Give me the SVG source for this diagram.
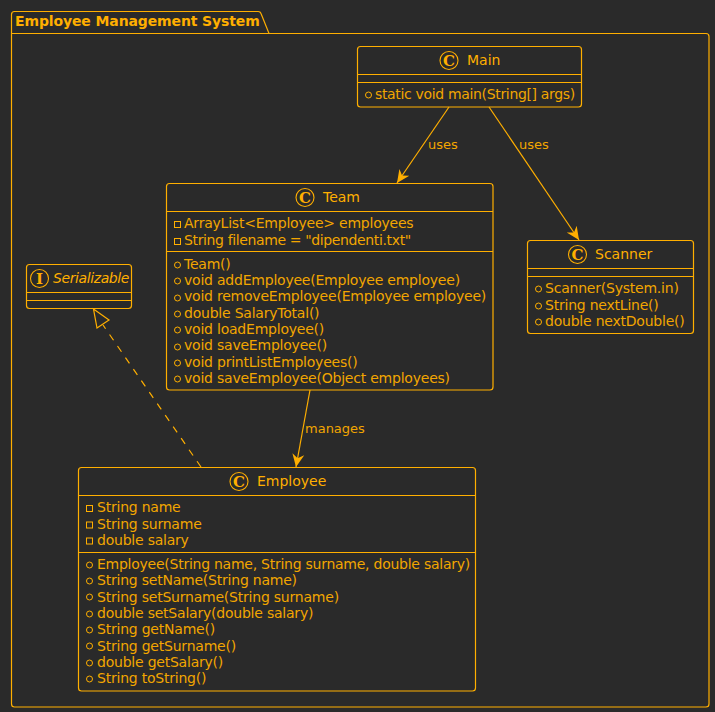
<svg xmlns="http://www.w3.org/2000/svg" width="715" height="712" viewBox="0 0 715 712">
<style>
text{font-family:"DejaVu Sans",sans-serif;font-size:14px;fill:#FFAF00}
.n{fill:none;stroke:#FFAF00;stroke-width:1.2}
.l{stroke:#FFAF00;stroke-width:1.2}
.m{font-size:14px;letter-spacing:-.22px;fill:#F2A600}
.g{font-family:"DejaVu Serif",serif;font-weight:bold;font-size:15px;text-anchor:middle}
.c{fill:none;stroke:#FFAF00;stroke-width:1.1}
.e{stroke:#FFAF00;stroke-width:1;fill:none}
.lab{font-size:13px;fill:#F2A600}
</style>
<defs>
<marker id="open" markerUnits="userSpaceOnUse" markerWidth="16" markerHeight="14" refX="13" refY="6" orient="auto" viewBox="0 0 16 12"><path d="M0,0L13,6L0,12L4,6Z" fill="#FFAF00"/></marker>
<g id="cc"><circle class="c" r="9"/></g>
</defs>
<rect width="715" height="712" fill="#2A2A2A"/>
<g id="package">
<path class="n" d="M11.5,33.5V14.5a3,3 0 0 1 3,-3H258a3,3 0 0 1 3,2L269,33.5H706a3,3 0 0 1 3,3V704a3,3 0 0 1 -3,3H14.5a3,3 0 0 1 -3,-3V33.5H269"/>
<text x="15" y="26" style="font-size:14px;font-weight:bold;letter-spacing:-.12px">Employee Management System</text>
</g>
<g id="connectors">
<path class="l" fill="none" d="M449,107L397,183" marker-end="url(#open)"/>
<path class="l" fill="none" d="M489,107L579,240" marker-end="url(#open)"/>
<path class="l" fill="none" d="M310,390L296,467" marker-end="url(#open)"/>
<path class="l" fill="none" stroke-dasharray="7,7" d="M201,467L103,325"/>
<path class="l" fill="#2A2A2A" d="M93.500,309L109,320L97,328Z"/>
<text class="lab" x="428" y="149">uses</text>
<text class="lab" x="519" y="149">uses</text>
<text class="lab" x="305" y="433">manages</text>
</g>
<g id="Main">
<rect class="n" x="357.500" y="46.500" width="224" height="60.500" rx="3"/>
<path class="n" d="M357.500,74.500H581.500M357.500,82.500H581.500"/>
<use href="#cc" x="449" y="60.500"/><text class="g" x="449" y="66">C</text>
<text x="467" y="65">Main</text>
<circle class="e" cx="368.500" cy="95" r="3"/>
<text class="m" x="375" y="99" textLength="200">static void main(String[] args)</text>
</g>
<g id="Team">
<rect class="n" x="166.500" y="183.500" width="326.500" height="206.500" rx="3"/>
<path class="n" d="M166.500,211.500H493M166.500,251.500H493"/>
<use href="#cc" x="305" y="197.500"/><text class="g" x="305" y="203">C</text>
<text x="323" y="202">Team</text>
<rect class="e" x="174.500" y="221.500" width="6" height="6"/><text class="m" x="184" y="228">ArrayList&lt;Employee&gt; employees</text>
<rect class="e" x="174.500" y="238.500" width="6" height="6"/><text class="m" x="184" y="245" textLength="227">String filename = "dipendenti.txt"</text>
<circle class="e" cx="177.500" cy="265" r="3"/><text class="m" x="184" y="269">Team()</text>
<circle class="e" cx="177.500" cy="281" r="3"/><text class="m" x="184" y="285">void addEmployee(Employee employee)</text>
<circle class="e" cx="177.500" cy="298" r="3"/><text class="m" x="184" y="301">void removeEmployee(Employee employee)</text>
<circle class="e" cx="177.500" cy="314" r="3"/><text class="m" x="184" y="318">double SalaryTotal()</text>
<circle class="e" cx="177.500" cy="330" r="3"/><text class="m" x="184" y="334">void loadEmployee()</text>
<circle class="e" cx="177.500" cy="347" r="3"/><text class="m" x="184" y="350">void saveEmployee()</text>
<circle class="e" cx="177.500" cy="363" r="3"/><text class="m" x="184" y="367">void printListEmployees()</text>
<circle class="e" cx="177.500" cy="379" r="3"/><text class="m" x="184" y="383">void saveEmployee(Object employees)</text>
</g>
<g id="Scanner">
<rect class="n" x="527.500" y="240.500" width="166" height="93" rx="3"/>
<path class="n" d="M527.500,268.500H693.500M527.500,276.500H693.500"/>
<use href="#cc" x="577.500" y="254.500"/><text class="g" x="577.500" y="260">C</text>
<text x="595" y="259">Scanner</text>
<circle class="e" cx="538.500" cy="289" r="3"/><text class="m" x="545" y="293">Scanner(System.in)</text>
<circle class="e" cx="538.500" cy="306" r="3"/><text class="m" x="545" y="310">String nextLine()</text>
<circle class="e" cx="538.500" cy="322" r="3"/><text class="m" x="545" y="326">double nextDouble()</text>
</g>
<g id="Serializable">
<rect class="n" x="26.500" y="264.500" width="105" height="44" rx="3"/>
<path class="n" d="M26.500,292.500H131.500M26.500,300.500H131.500"/>
<use href="#cc" x="39.500" y="278.500"/><text class="g" x="39.500" y="284">I</text>
<text x="53" y="283" style="font-style:italic;font-size:14px;letter-spacing:-.4px">Serializable</text>
</g>
<g id="Employee">
<rect class="n" x="78.500" y="467.500" width="397" height="223.500" rx="3"/>
<path class="n" d="M78.500,495.500H475.500M78.500,552.500H475.500"/>
<use href="#cc" x="239" y="481.500"/><text class="g" x="239" y="487">C</text>
<text x="257" y="486">Employee</text>
<rect class="e" x="86.500" y="505.500" width="6" height="6"/><text class="m" x="97" y="512">String name</text>
<rect class="e" x="86.500" y="522" width="6" height="6"/><text class="m" x="97" y="529">String surname</text>
<rect class="e" x="86.500" y="538" width="6" height="6"/><text class="m" x="97" y="545">double salary</text>
<circle class="e" cx="89.500" cy="565" r="3"/><text class="m" x="97" y="569" textLength="373">Employee(String name, String surname, double salary)</text>
<circle class="e" cx="89.500" cy="581" r="3"/><text class="m" x="97" y="585">String setName(String name)</text>
<circle class="e" cx="89.500" cy="597" r="3"/><text class="m" x="97" y="602">String setSurname(String surname)</text>
<circle class="e" cx="89.500" cy="614" r="3"/><text class="m" x="97" y="618">double setSalary(double salary)</text>
<circle class="e" cx="89.500" cy="630" r="3"/><text class="m" x="97" y="634">String getName()</text>
<circle class="e" cx="89.500" cy="646" r="3"/><text class="m" x="97" y="651">String getSurname()</text>
<circle class="e" cx="89.500" cy="663" r="3"/><text class="m" x="97" y="667">double getSalary()</text>
<circle class="e" cx="89.500" cy="679" r="3"/><text class="m" x="97" y="683">String toString()</text>
</g>
</svg>
